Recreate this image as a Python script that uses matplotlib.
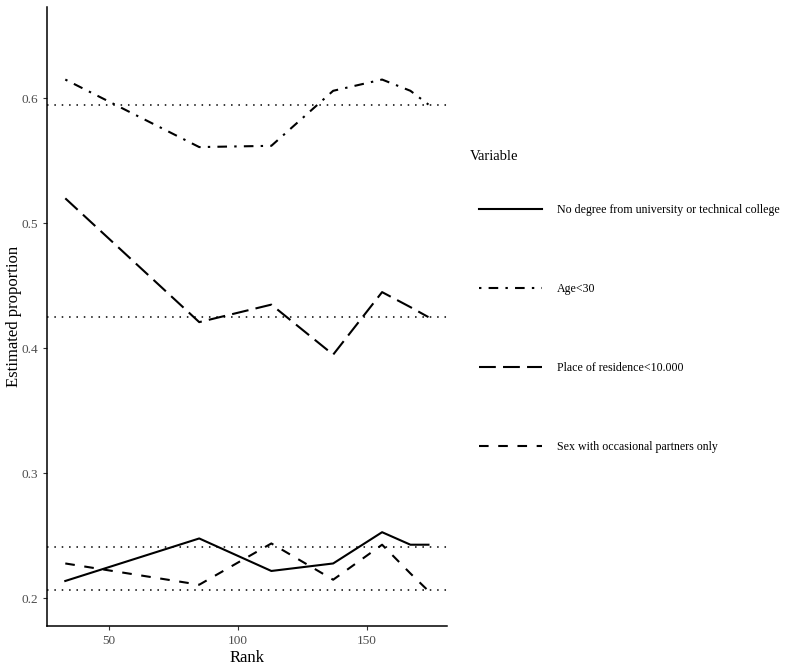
import matplotlib
matplotlib.use('Agg')
from matplotlib import pyplot as plt

plt.rcParams['font.family'] = ['Liberation Serif', 'DejaVu Serif']
plt.rcParams['lines.scale_dashes'] = False

rank = [33, 85, 113, 137, 156, 167, 174]

no_degree = [0.214, 0.248, 0.222, 0.228, 0.253, 0.243, 0.243]
age_under_30 = [0.615, 0.561, 0.562, 0.606, 0.615, 0.606, 0.595]
residence = [0.520, 0.421, 0.435, 0.395, 0.445, 0.433, 0.425]
sex_occasional = [0.228, 0.211, 0.244, 0.215, 0.243, 0.220, 0.206]

# overall means shown as dotted reference lines
means = [0.5946, 0.4248, 0.2413, 0.2066]

labels = ['No degree from university or technical college', 'Age<30',
          'Place of residence<10.000', 'Sex with occasional partners only']

u = 1.73  # ggplot dash unit in points
styles = [
    None,
    (0, (u, 3 * u, 4 * u, 3 * u)),
    (0, (7 * u, 3 * u)),
    (0, (4 * u, 4 * u)),
]

fig = plt.figure(figsize=(8, 6.69), dpi=100)
ax = fig.add_axes([0.05875, 0.0643, 0.5, 0.9252])

for m in means:
    ax.axhline(m, color='black', lw=1.1, linestyle=(0, (1.1, 4.2)))

series = [no_degree, age_under_30, residence, sex_occasional]
handles = []
for vals, lab, ls in zip(series, labels, styles):
    if ls is None:
        h, = ax.plot(rank, vals, color='black', lw=1.5, label=lab, solid_joinstyle='round')
    else:
        h, = ax.plot(rank, vals, color='black', lw=1.5, linestyle=ls, label=lab)
    handles.append(h)

ax.set_xlim(25.9, 181.2)
ax.set_ylim(0.178, 0.673)
ax.set_xticks([50, 100, 150])
ax.set_yticks([0.2, 0.3, 0.4, 0.5, 0.6])
ax.set_yticklabels(['0.2', '0.3', '0.4', '0.5', '0.6'])
ax.tick_params(colors='#333333', labelcolor='#4D4D4D', labelsize=9.5, length=3, width=0.8)
for s in ['top', 'right']:
    ax.spines[s].set_visible(False)
for s in ['left', 'bottom']:
    ax.spines[s].set_linewidth(1.1)

ax.set_xlabel('Rank', fontsize=12, labelpad=2)
ax.set_ylabel('Estimated proportion', fontsize=12)
ax.yaxis.set_label_coords(-0.0625, 0.5)

fig.legend(handles=handles, labels=labels, loc='upper left',
           bbox_to_anchor=(0.5925, 0.7018), frameon=False, fontsize=8.6,
           handlelength=5.27, labelspacing=5.6, handletextpad=1.3,
           borderaxespad=0)
fig.text(470 / 800, 1 - 157 / 669, 'Variable', fontsize=10.5, va='center', ha='left')

fig.savefig('out.png', dpi=100)
